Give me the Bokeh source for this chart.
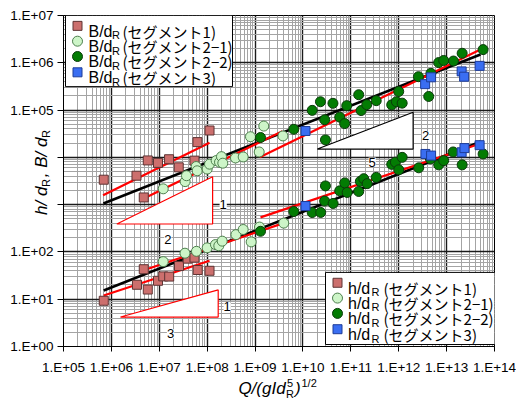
from math import pi
from bokeh.plotting import figure
from bokeh.models import Range1d, FixedTicker, CustomJSTickFormatter, Label
from bokeh.embed import file_html
from bokeh.resources import INLINE

# ---------------- data ----------------
seg1_Bx = [6.93e5, 3.34e6, 4.74e6, 5.75e6, 9.40e6, 1.60e7, 2.55e7, 5.43e7, 6.27e7, 1.12e8]
seg1_B = [3370, 4090, 1420, 8610, 7640, 9120, 6150, 8530, 21000, 37000]
seg1_hx = [6.93e5, 3.42e6, 4.74e6, 5.75e6, 9.40e6, 1.21e7, 1.61e7, 2.58e7, 3.92e7, 5.43e7, 6.34e7, 1.12e8]
seg1_h = [9.27, 20.2, 43.1, 16.0, 24.5, 30.4, 30.1, 50.3, 72.1, 75.7, 41.5, 39.9]

seg21_Bx = [1.21e7, 3.47e7, 3.70e7, 5.89e7, 6.18e7, 1.0e8, 1.12e8, 1.54e8, 1.81e8, 1.99e8,
            2.12e8, 3.90e8, 5.65e8, 8.02e8, 1.22e9, 1.52e9, 3.82e9]
seg21_B = [2160, 3070, 4090, 6400, 5200, 5650, 7180, 8530, 7900, 10350,
           7530, 9710, 10200, 27300, 13000, 45900, 28400]
seg21_hx = [1.21e7, 3.44e7, 5.98e7, 1.0e8, 1.49e8, 1.75e8, 2.06e8, 3.99e8, 5.65e8, 8.30e8, 1.24e9, 3.97e9]
seg21_h = [62.4, 94.0, 103, 122, 143, 135, 169, 232, 298, 163, 336, 407]

seg22_Bx = [1.30e9, 6.43e9, 1.56e10, 2.32e10, 2.85e10, 2.95e10, 4.23e10, 5.86e10, 7.43e10, 8.21e10,
            1.46e11, 1.64e11, 2.15e11, 3.39e11, 7.14e11, 8.95e11, 1.0e12, 1.18e12, 2.58e12, 4.23e12,
            4.70e12, 6.84e12, 8.69e12, 1.39e13, 2.11e13, 5.78e13]
seg22_B = [26300, 39200, 98600, 150000, 62400, 23400, 139000, 70800, 51800, 124000,
           211000, 97700, 130000, 158000, 129000, 150000, 247000, 140000, 508000, 194000,
           598000, 1.01e6, 1.12e6, 1.09e6, 1.59e6, 1.90e6]
seg22_hx = [1.30e9, 6.43e9, 1.56e10, 2.35e10, 2.84e10, 2.95e10, 4.27e10, 5.86e10, 7.46e10, 8.37e10,
            1.46e11, 1.58e11, 1.86e11, 2.19e11, 3.39e11, 7.14e11, 8.53e11, 1.0e12, 1.18e12, 2.62e12,
            4.59e12, 6.84e12, 8.69e12, 1.37e13, 2.11e13, 5.78e13]
seg22_h = [273, 714, 681, 684, 1190, 2490, 1060, 1960, 2880, 1810,
           1900, 3110, 3540, 2780, 3770, 7110, 7900, 5460, 10000, 6010,
           9270, 6940, 8530, 13000, 6940, 11800]

seg3_Bx = [1.13e10, 3.56e12, 4.74e12, 2.06e13, 2.32e13, 4.89e13]
seg3_B = [36100, 354000, 493000, 658000, 508000, 861000]
seg3_hx = [1.13e10, 3.61e12, 4.74e12, 2.06e13, 2.36e13, 4.89e13]
seg3_h = [935, 11800, 10900, 12800, 15700, 18100]

# power-law fit lines  y = c * x**m  on [x0, x1]
fit_names = ["all_B", "all_h", "seg1_B", "seg1_h", "seg21_B", "seg21_h", "seg22_B", "seg22_h"]
fit_c = [4.93, 0.0705, 1.93, 0.1355, 0.726, 0.213, 0.322, 0.428]
fit_m = [0.4, 0.4, 0.5, 1 / 3, 0.49, 0.342, 0.494, 0.34]
fit_x0 = [6.8e5, 6.9e5, 6.7e5, 6.9e5, 4.74e6, 4.4e6, 1.25e9, 1.3e9]
fit_x1 = [5.1e13, 5.1e13, 1.12e8, 1.12e8, 3.73e9, 3.92e9, 5.1e13, 5.5e13]
fit_color = ["black", "black", "red", "red", "red", "red", "red", "red"]

# slope triangles
tri_x = [[1.3e6, 1.3e8, 1.3e8], [1.55e6, 1.7e8, 1.7e8], [2.0e10, 2.0e12, 2.0e12]]
tri_y = [[390, 3900, 390], [4.2, 15.7, 4.2], [15000, 90000, 15000]]
tri_color = ["red", "red", "black"]

x_ticks = [10.0 ** k for k in range(5, 15)]
y_ticks = [10.0 ** k for k in range(0, 8)]

legend_labels = ["(セグメント1)", "(セグメント2−1)", "(セグメント2−2)", "(セグメント3)"]

NB = "\u00a0"
x_title = "Q/(gId" + NB * 2 + ")" + NB * 4
y_title = NB * 4 + "h/" + NB + "d" + NB * 2 + "," + NB + "B/" + NB + "d" + NB * 2

# ---------------- layout helpers (page pixel -> data) ----------------
FL, FT, FR, FB = 63, 15, 494, 350


def dx(px):
    return 10 ** (5 + (px - FL) / (FR - FL) * 9)


def dy(py):
    return 10 ** ((FB - py) / (FB - FT) * 7)


W, H = 516, 400
p = figure(width=W, height=H, x_axis_type="log", y_axis_type="log",
           x_range=Range1d(1e5, 1e14), y_range=Range1d(1, 1e7),
           output_backend="svg", toolbar_location=None, title=None,
           min_border_left=FL, min_border_right=W - FR,
           min_border_top=FT, min_border_bottom=H - FB)
p.outline_line_color = "black"
p.background_fill_color = "white"

minor_x = [m * 10.0 ** k for k in range(5, 14) for m in range(2, 10)]
minor_y = [m * 10.0 ** k for k in range(0, 7) for m in range(2, 10)]
p.xaxis.ticker = FixedTicker(ticks=x_ticks, minor_ticks=minor_x)
p.yaxis.ticker = FixedTicker(ticks=y_ticks, minor_ticks=minor_y)
p.xaxis.formatter = CustomJSTickFormatter(code="""
const e = Math.round(Math.log10(tick));
return '1.E' + (e < 0 ? '-' : '+') + String(Math.abs(e)).padStart(2, '0');
""")
# 1.E+03 / 1.E+04 are covered by the axis title in the reference
p.yaxis.formatter = CustomJSTickFormatter(code="""
const e = Math.round(Math.log10(tick));
if (e == 3 || e == 4) return '';
return '1.E' + (e < 0 ? '-' : '+') + String(Math.abs(e)).padStart(2, '0');
""")
for ax in (p.xaxis, p.yaxis):
    ax.major_label_text_font = "Liberation Sans"
    ax.major_label_text_font_size = "13.5px"
    ax.major_label_text_color = "black"
    ax.axis_line_color = "black"
    ax.major_tick_line_color = "black"
    ax.minor_tick_line_color = None
    ax.major_tick_in = 0
    ax.axis_label_text_font = "Liberation Sans"
    ax.axis_label_text_font_size = "17px"
    ax.axis_label_text_font_style = "italic"
    ax.axis_label_text_color = "black"
p.xaxis.major_tick_out = 5
p.xaxis.major_label_standoff = 8
p.yaxis.major_tick_out = 6
p.yaxis.major_label_standoff = 4
p.xaxis.axis_label = x_title
p.xaxis.axis_label_standoff = 1
p.yaxis.axis_label = y_title
p.yaxis.axis_label_standoff = -44

for g in (p.xgrid, p.ygrid):
    g.grid_line_color = "#1a1a1a"
    g.grid_line_width = 1.4
    g.minor_grid_line_color = "#a4a4a4"
    g.minor_grid_line_width = 1

# triangles
for tx, ty, tc in zip(tri_x, tri_y, tri_color):
    p.patch(tx, ty, fill_color="white", line_color=tc, line_width=1.2)

# fit lines
for c, m, x0, x1, col in zip(fit_c, fit_m, fit_x0, fit_x1, fit_color):
    p.line([x0, x1], [c * x0 ** m, c * x1 ** m], line_color=col,
           line_width=2.6 if col == "black" else 2.2)

# series styles
sq1 = dict(marker="square", size=9, fill_color="#cc6f6d", line_color="#5e3434", line_width=1)
c21 = dict(marker="circle", size=10, fill_color="#cdf5c8", line_color="#4d7f4d", line_width=1)
c22 = dict(marker="circle", size=10, fill_color="#037c03", line_color="#0b3b0b", line_width=1)
sq3 = dict(marker="square", size=9, fill_color="#3a6ef2", line_color="#1d3c99", line_width=1)
styles = [sq1, c21, c22, sq3]

for xs, ys, st in [(seg1_Bx, seg1_B, sq1), (seg1_hx, seg1_h, sq1),
                   (seg21_Bx, seg21_B, c21), (seg21_hx, seg21_h, c21),
                   (seg22_Bx, seg22_B, c22), (seg22_hx, seg22_h, c22),
                   (seg3_Bx, seg3_B, sq3), (seg3_hx, seg3_h, sq3)]:
    p.scatter(xs, ys, **st)

# triangle numbers
for txt, px, py in [("1", 222.7, 206.7), ("2", 167.3, 241.3), ("1", 226.7, 310),
                    ("3", 170, 337), ("2", 425, 136.7), ("5", 371.7, 163.3)]:
    p.add_layout(Label(x=dx(px), y=dy(py), text=txt, text_align="center",
                       text_baseline="middle", text_font="Liberation Sans",
                       text_font_size="13px", text_color="black",
                       background_fill_color="white"))

# legends (box + markers as glyphs, texts as labels)
row_off = [10.5, 26, 41.5, 57.5]
for (bl, bt, br, bb), mx, sym, t0, tR, tP in [((65, 15, 232, 87), 77, "B/d", 88, 111.5, 122),
                                              ((325, 275, 495, 348), 337, "h/d", 347.5, 371, 383)]:
    p.quad(left=[dx(bl)], right=[dx(br)], top=[dy(bt)], bottom=[dy(bb)],
           fill_color="white", line_color="black", line_width=1)
    for k, st in enumerate(styles):
        cy = bt + row_off[k]
        p.scatter([dx(mx)], [dy(cy)], **st)
        base = cy + 5.5
        p.add_layout(Label(x=dx(t0), y=dy(base), text=sym, text_font="Liberation Sans",
                           text_font_size="16px", text_baseline="alphabetic", text_color="black"))
        p.add_layout(Label(x=dx(tR), y=dy(base + 4), text="R", text_font="Liberation Sans",
                           text_font_size="11px", text_baseline="alphabetic", text_color="black"))
        p.add_layout(Label(x=dx(tP), y=dy(base), text=legend_labels[k], text_font="Noto Sans CJK JP",
                           text_font_size="15px", text_baseline="alphabetic", text_color="black"))


# sub/superscripts of the axis titles (kept in side panels, which have spare room,
# so that they are not clipped to the plot frame)
def small(txt, px, py, panel, angle=0.0):
    p.add_layout(Label(x=dx(px), y=dy(py), text=txt, text_font="Liberation Sans",
                       text_font_size="11px", text_baseline="alphabetic",
                       angle=angle, text_color="black"), panel)


small("R", 285.5, 398, "left")
small("5", 286.5, 387, "right")
small("1/2", 301, 387, "right")
small("R", 45, 188.5, "left", pi / 2)
small("R", 45, 139, "above", pi / 2)

open("out.html", "w").write(file_html(p, INLINE))
